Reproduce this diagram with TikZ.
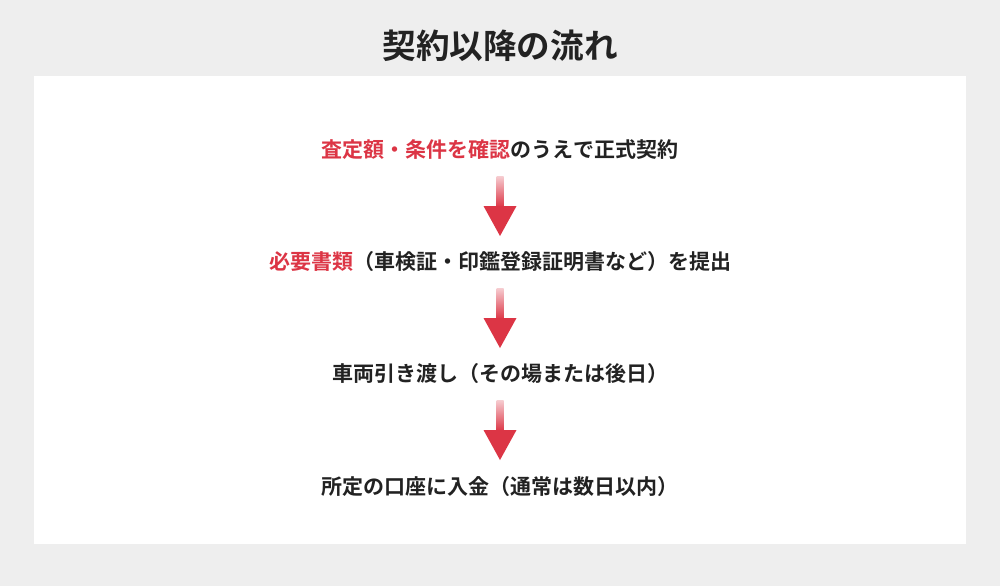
\documentclass[tikz,border=0pt]{standalone}
\usepackage{fontspec}
\setmainfont{Noto Sans CJK JP}[BoldFont={* Bold}]
\usetikzlibrary{shadings}
\definecolor{accent}{HTML}{DC3545}
\definecolor{bg}{HTML}{EEEEEE}
\definecolor{txt}{HTML}{222222}
\begin{document}
\begin{tikzpicture}[x=0.5pt,y=-0.5pt,
  lbl/.style={font=\bfseries\fontsize{10.5}{12}\selectfont, text=txt, inner sep=0},
  hl/.style={text=accent}]
\fill[bg] (0,0) rectangle (1000,586);
\useasboundingbox (0,0) rectangle (1000,586);
\fill[white] (34,76) rectangle (966,544);
\node[font=\bfseries\fontsize{16.8}{18}\selectfont, text=txt] (title) at (500,46) {契約以降の流れ};
\node[lbl] (s1) at (500,150) {\textcolor{accent}{査定額・条件を確認}のうえで正式契約};
\node[lbl] (s2) at (500,262) {\textcolor{accent}{必要書類}（車検証・印鑑登録証明書など）を提出};
\node[lbl] (s3) at (500,374) {車両引き渡し（その場または後日）};
\node[lbl] (s4) at (500,487) {所定の口座に入金（通常は数日以内）};
\foreach \t in {176,288,400}{
  \shade[top color=accent!25, bottom color=accent] (496.5,\t) rectangle (503.5,\t+31);
  \fill[accent] (483.5,\t+30) -- (516.5,\t+30) -- (500,\t+60) -- cycle;
}
\end{tikzpicture}
\end{document}
